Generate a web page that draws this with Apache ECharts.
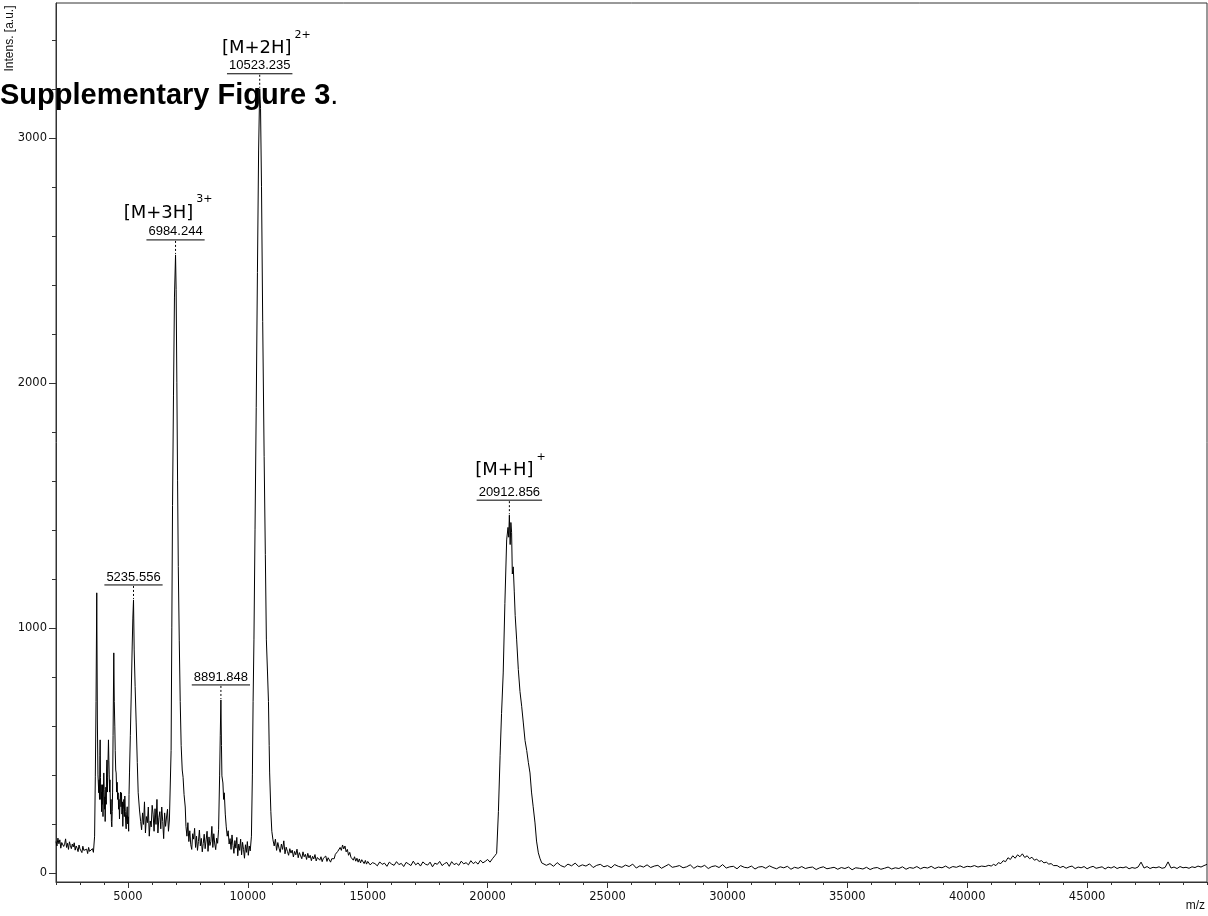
<!DOCTYPE html>
<html>
<head>
<meta charset="utf-8">
<script src="https://cdn.jsdelivr.net/npm/echarts@6/dist/echarts.min.js"></script>
<style>
html,body{margin:0;padding:0;background:#fff;}
#chart{width:1208px;height:916px;}
</style>
</head>
<body>
<div id="chart"></div>
<script>
// ---------------- DATA ----------------
// regularly sampled noisy stretches: start m/z, step, intensities read off the picture
const lowMassStart = 2000, lowMassStep = 40;
const lowMassInt = [128,110,142,119,135,101,124,131,108,117,139,104,121,96,127,112,99,118,106,123,
  93,110,101,87,114,98,105,83,109,92,100,86,97,79,104,88,95,81,99,84,90];

// [m/z, intensity] pairs around the peaks
const clusterLow = [
 [3610,150],[3640,392],[3670,700],[3700,1143],[3725,620],[3750,400],[3783,327],[3800,380],[3815,300],[3830,480],
 [3841,543],[3855,390],[3870,300],[3885,360],[3900,250],[3915,330],[3930,280],[3945,360],[3960,230],[3975,330],
 [3993,408],[4010,340],[4025,260],[4040,310],[4050,210],[4065,300],[4080,350],[4095,280],[4110,420],[4125,461],
 [4140,330],[4155,390],[4170,460],[4188,543],[4205,460],[4220,400],[4235,330],[4250,380],[4265,290],[4280,240],
 [4295,300],[4310,210],[4327,188],[4345,250],[4360,330],[4380,560],[4410,898],[4430,700],[4453,596],[4470,500],
 [4490,420],[4509,408],[4530,330],[4550,370],[4570,300],[4593,327],[4610,260],[4630,300],[4647,220],[4665,280],
 [4690,330],[4710,270],[4731,327],[4750,240],[4770,290],[4786,190],[4805,260],[4830,300],[4850,230],[4870,314],
 [4890,250],[4910,200],[4926,180],[4945,240],[4970,270],[4990,200],[5010,229],[5030,170],[5045,320],[5065,408],
 [5100,560],[5135,718],[5177,922],[5205,1040],[5232,1114],[5260,910],[5300,760],[5344,612],[5390,450],[5428,327],
 [5482,257],[5530,210]
];
const preTripleStart = 5570, preTripleStep = 40;
const preTripleInt = [176,245,198,290,163,230,205,269,150,212,188,276,240,170,262,198,300,163,225,250,
  180,269,210,140,245,190,228,260,170,216];
const peakTripleCharged = [
 [6777,216],[6800,500],[6830,1000],[6860,1500],[6900,1950],[6940,2350],[6985,2522],[7010,2380],[7040,2000],[7070,1600],
 [7100,1250],[7140,950],[7180,700],[7220,520],[7264,420],[7300,390],[7340,320],[7390,269]
];
const midNoiseStart = 7420, midNoiseStep = 40;
const midNoiseInt = [190,150,205,128,172,115,96,160,138,182,104,150,92,128,175,110,141,86,120,158,
  99,135,170,88,147,112,129,190,104,160,118,95,142,121,176];
const peakMinor = [
 [8823,396],[8850,560],[8877,706],[8900,520],[8919,396],[8961,367],[8990,300],[9018,327],[9060,240]
];
const preDoubleStart = 9100, preDoubleStep = 40;
const preDoubleInt = [188,150,172,118,140,96,155,112,80,132,101,145,70,118,92,138,74,125,96,60,
  115,84,128,72,110,90];
const peakDoubleCharged = [
 [10150,150],[10190,400],[10220,700],[10255,951],[10300,1400],[10350,1900],[10400,2450],[10450,2950],[10495,3200],[10530,3120],
 [10570,2800],[10620,2250],[10680,1700],[10730,1300],[10773,951],[10820,820],[10860,700],[10890,520],[10910,408],[10960,250],
 [11000,170],[11048,135]
];
const postDoubleStart = 11100, postDoubleStep = 50;
const postDoubleInt = [110,138,92,124,101,84,118,96,131,78,105,88,72,99,81,93,65,88,74,97,
  62,83,70,58,86,66,76,55,80,61,72,50,68,57,75,49,63,71,52,66,
  46,60,54,69,47,62,55,44,58,
  64,58,76,70,88,80,104,92,114,98,110,86,96,72,84,64,70,52,66,48,
  60,44,57,41,54,46,38,51,36];
const preSingleStart = 15000, preSingleStep = 100;
const preSingleInt = [47,33,42,38,29,45,35,40,27,44,36,31,46,34,39,26,43,37,30,48,
  33,41,28,45,36,32,44,25,40,35,47,30,38,43,27,46,34,39,31,48,
  37,42,33,50,38,45,36,52,41,47,55,44,58,70];
const peakSingleCharged = [
 [20376,80],[20450,250],[20520,480],[20580,650],[20650,816],[20720,1100],[20794,1359],[20850,1410],[20880,1370],[20907,1460],
 [20940,1340],[20970,1430],[21000,1390],[21030,1220],[21069,1249],[21110,1150],[21150,1050],[21211,951],[21280,830],[21350,740],
 [21420,680],[21489,612],[21560,540],[21630,500],[21700,450],[21767,408],[21830,330],[21900,270],[21976,204],[22040,130],
 [22115,82],[22180,60],[22255,41]
];
const highStart = 22300, highStep = 150;
const highInt = [45,31,38,27,42,30,24,36,29,40,26,33,28,37,22,31,35,25,30,21,
  34,27,23,32,26,36,20,29,24,33,22,28,31,19,27,35,23,26,30,21,
  25,33,19,28,24,31,18,26,29,22,34,20,25,27,17,30,23,21,28,16,
  24,26,19,29,22,17,25,21,27,15,23,19,26,18,22,24,14,21,25,17,
  20,23,15,22,18,24,13,21,19,16,23,14,20,22,15,19,24,16,21,18,
  25,15,22,19,26,17,23,20,27,18,24,21,28,19,26,23,29,22,27,25,
  30,24,28,26,31];
const humpStart = 41000, humpStep = 100;
const humpInt = [28,35,30,42,38,50,46,62,55,70,60,74,66,78,63,70,58,64,52,56,47,50,41,44,36,38,30];
const tailStart = 43750, tailStep = 125;
const tailInt = [30,22,27,19,25,28,18,24,21,26,17,23,27,19,22,25,16,24,20,26,
  18,23,21,25,17,22,19,24,44,20,26,18,23,21,25,19,22,45,20,24,
  18,26,21,23,19,25,22,28,24,30,35];

// annotated peaks
const peakMz = [5232, 6985, 8877, 10495, 20907];
const peakText = ['5235.556', '6984.244', '8891.848', '10523.235', '20912.856'];
const ionMain = ['', '[M+3H]', '', '[M+2H]', '[M+H]'];
const ionSup = ['', '3+', '', '2+', '+'];

// axis ticks
const xLabelValues = [5000, 10000, 15000, 20000, 25000, 30000, 35000, 40000, 45000];
const yLabelValues = [0, 1000, 2000, 3000];

// ---------------- BUILD ----------------
const X_MIN = 2000, X_MAX = 50000, Y_MIN = -37, Y_MAX = 3550;
const ionOffsets = [null, [-17, -27], null, [-3, -25], [-5, -30]];

function sampled(start, step, vals) { return vals.map((v, i) => [start + i * step, v]); }

const spectrum = [].concat(
  sampled(lowMassStart, lowMassStep, lowMassInt),
  clusterLow,
  sampled(preTripleStart, preTripleStep, preTripleInt),
  peakTripleCharged,
  sampled(midNoiseStart, midNoiseStep, midNoiseInt),
  peakMinor,
  sampled(preDoubleStart, preDoubleStep, preDoubleInt),
  peakDoubleCharged,
  sampled(postDoubleStart, postDoubleStep, postDoubleInt),
  sampled(preSingleStart, preSingleStep, preSingleInt),
  peakSingleCharged,
  sampled(highStart, highStep, highInt),
  sampled(humpStart, humpStep, humpInt),
  sampled(tailStart, tailStep, tailInt)
).sort((a, b) => a[0] - b[0]);

const xMinor = []; for (let v = X_MIN; v <= X_MAX; v += 1000) xMinor.push(v);
const yMinor = []; for (let v = 200; v <= 3400; v += 200) if (v % 1000) yMinor.push(v);

const AX = '#333';
const LBL = {color: '#111', fontFamily: 'DejaVu Sans', fontSize: 11.5, formatter: v => String(v)};

const chart = echarts.init(document.getElementById('chart'), null, {renderer: 'canvas'});
chart.setOption({
  animation: false,
  backgroundColor: '#fff',
  grid: {left: 56, right: 1, top: 3, bottom: 34, show: true, borderColor: AX, borderWidth: 1, backgroundColor: 'transparent'},
  xAxis: [
    {type: 'value', min: X_MIN, max: X_MAX, position: 'bottom',
     axisLine: {onZero: false, lineStyle: {color: AX, width: 1}},
     axisTick: {customValues: xLabelValues, length: 6, lineStyle: {color: AX}},
     axisLabel: Object.assign({customValues: xLabelValues, margin: 9}, LBL),
     splitLine: {show: false}},
    {type: 'value', min: X_MIN, max: X_MAX, position: 'bottom',
     axisLine: {show: false, onZero: false},
     axisTick: {customValues: xMinor, length: 3, lineStyle: {color: AX}},
     axisLabel: {show: false}, splitLine: {show: false}}
  ],
  yAxis: [
    {type: 'value', min: Y_MIN, max: Y_MAX, position: 'left',
     axisLine: {show: true, onZero: false, lineStyle: {color: AX, width: 1}},
     axisTick: {show: true, customValues: yLabelValues, length: 7, lineStyle: {color: AX}},
     axisLabel: Object.assign({customValues: yLabelValues, margin: 9}, LBL),
     splitLine: {show: false}},
    {type: 'value', min: Y_MIN, max: Y_MAX, position: 'left',
     axisLine: {show: false, onZero: false},
     axisTick: {show: true, customValues: yMinor, length: 4, lineStyle: {color: AX}},
     axisLabel: {show: false}, splitLine: {show: false}}
  ],
  series: [{
    type: 'line', xAxisIndex: 0, yAxisIndex: 0, data: spectrum,
    showSymbol: false, symbol: 'none', smooth: false, clip: true,
    lineStyle: {color: '#000', width: 1}
  }]
});

// ---------------- ANNOTATIONS ----------------
const mctx = document.createElement('canvas').getContext('2d');
function textWidth(str, font) { mctx.font = font; return mctx.measureText(str).width; }

const graphics = [];
const NUM_FONT = '13px "Liberation Sans"';
const ION_FONT = '18px "DejaVu Sans"';
const SUP_FONT = '11px "DejaVu Sans"';

peakMz.forEach((mz, i) => {
  let best = null;
  spectrum.forEach(p => { if (Math.abs(p[0] - mz) <= 60 && (!best || p[1] > best[1])) best = p; });
  const pt = chart.convertToPixel({xAxisIndex: 0, yAxisIndex: 0}, best);
  const px = pt[0], py = pt[1];
  const uy = py - 15;
  const tw = textWidth(peakText[i], NUM_FONT);
  const half = tw / 2 + 2;
  graphics.push({type: 'line', shape: {x1: px - half, y1: uy, x2: px + half, y2: uy},
    style: {stroke: '#000', lineWidth: 1}, z: 10});
  graphics.push({type: 'line', shape: {x1: px, y1: uy + 1, x2: px, y2: py - 1},
    style: {stroke: '#000', lineWidth: 1, lineDash: [2, 2]}, z: 10});
  graphics.push({type: 'text', x: px, y: uy - 8,
    style: {text: peakText[i], font: NUM_FONT, fill: '#000', align: 'center', verticalAlign: 'middle'}, z: 10});
  if (ionMain[i]) {
    const off = ionOffsets[i];
    const cx = px + off[0], cy = uy + off[1];
    const iw = textWidth(ionMain[i], ION_FONT);
    graphics.push({type: 'text', x: cx, y: cy,
      style: {text: ionMain[i], font: ION_FONT, fill: '#000', align: 'center', verticalAlign: 'middle'}, z: 10});
    graphics.push({type: 'text', x: cx + iw / 2 + 3, y: cy - 13.5,
      style: {text: ionSup[i], font: SUP_FONT, fill: '#000', align: 'left', verticalAlign: 'middle'}, z: 10});
  }
});

graphics.push({type: 'text', x: 0, y: 96, z: 20,
  style: {text: '{b|Supplementary Figure 3}{n|.}', fill: '#000', align: 'left', verticalAlign: 'middle',
    rich: {b: {font: 'bold 29px "Liberation Sans"', fill: '#000'}, n: {font: '29px "Liberation Sans"', fill: '#000'}}}});
graphics.push({type: 'text', x: 9.5, y: 38.5, rotation: Math.PI / 2, z: 20,
  style: {text: 'Intens. [a.u.]', font: '12px "Liberation Sans"', fill: '#111', align: 'center', verticalAlign: 'middle'}});
graphics.push({type: 'text', x: 1205, y: 906, z: 20,
  style: {text: 'm/z', font: '12px "Liberation Sans"', fill: '#111', align: 'right', verticalAlign: 'middle'}});

chart.setOption({graphic: graphics});
</script>
</body>
</html>
